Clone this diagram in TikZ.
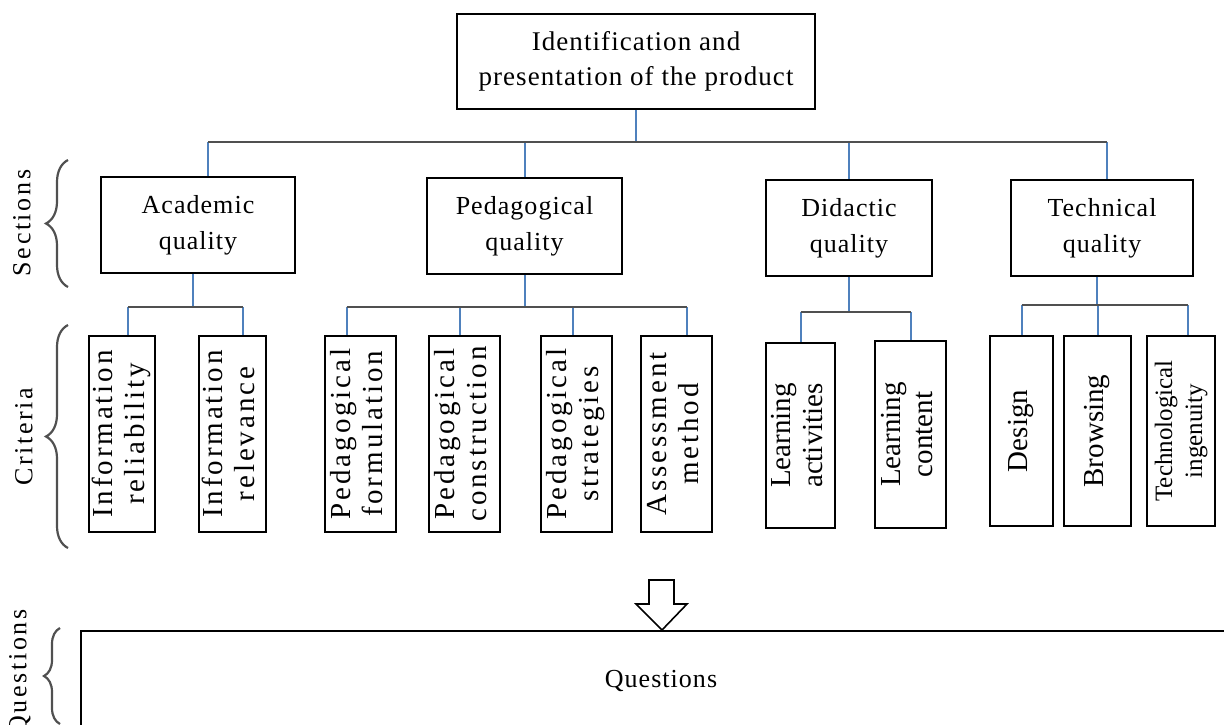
\documentclass[tikz,border=0pt]{standalone}
\usepackage{fontspec}
\setmainfont{Liberation Serif}
\newfontfamily\boxfont[LetterSpace=4]{Liberation Serif}
\newfontfamily\sidefont[LetterSpace=10]{Liberation Serif}
\usepackage{tikz}
\usetikzlibrary{decorations.pathreplacing}

\definecolor{stemblue}{HTML}{4F81BD}
\definecolor{busgray}{HTML}{505050}

% rotated two-line text for the criteria boxes
\newcommand{\vlabel}[2]{\rotatebox{90}{\begin{tabular}{@{}c@{}}#1\\#2\end{tabular}}}

\begin{document}
\begin{tikzpicture}[x=1pt,y=-1pt,
    box/.style={draw=black, line width=1.8pt, align=center, inner sep=0pt},
    topbox/.style={box, minimum width=358, minimum height=95, font=\boxfont\fontsize{27}{35}\selectfont},
    secbox/.style={box, minimum height=96, font=\boxfont\fontsize{26}{36}\selectfont},
    critbox/.style={box, font=\sidefont\fontsize{29}{32}\selectfont},
    critboxn/.style={box, font=\fontsize{29}{32}\selectfont},
    stem/.style={draw=stemblue, line width=2pt},
    bus/.style={draw=busgray, line width=2.5pt},
    sidebrace/.style={draw=busgray, line width=2.2pt, decorate, decoration={brace, amplitude=#1}},
    sidelabel/.style={rotate=90, font=\sidefont\fontsize{26}{30}\selectfont}
]
\useasboundingbox (0,0) rectangle (1224,724);

% top
\node[topbox] (product) at (636,61.5) {Identification and\\presentation of the product};

% sections
\node[secbox, minimum width=194] (academic) at (198,225) {Academic\\quality};
\node[secbox, minimum width=195] (pedagogical) at (524.5,226) {Pedagogical\\quality};
\node[secbox, minimum width=166] (didactic) at (849,228) {Didactic\\quality};
\node[secbox, minimum width=182] (technical) at (1102,228) {Technical\\quality};

% criteria
\node[critbox, minimum width=66, minimum height=196] (inforel) at (122,434) {\vlabel{Information}{reliability}};
\node[critbox, minimum width=67, minimum height=196] (inforelev) at (232.5,434) {\vlabel{Information}{relevance}};
\node[critbox, minimum width=71, minimum height=196] (pedform) at (360.5,434) {\vlabel{Pedagogical}{formulation}};
\node[critbox, minimum width=71, minimum height=196] (pedcons) at (464.5,434) {\vlabel{Pedagogical}{construction}};
\node[critbox, minimum width=71, minimum height=196] (pedstrat) at (576.5,434) {\vlabel{Pedagogical}{strategies}};
\node[critbox, minimum width=71, minimum height=196] (assess) at (676.5,434) {\vlabel{Assessment}{method}};
\node[critboxn, minimum width=69, minimum height=185] (learnact) at (800.5,435.5) {\vlabel{Learning}{activities}};
\node[critboxn, minimum width=71, minimum height=187] (learncont) at (910.5,434.5) {\vlabel{Learning}{content}};
\node[critboxn, minimum width=63, minimum height=190] (design) at (1021.5,431) {\rotatebox{90}{Design}};
\node[critboxn, minimum width=67, minimum height=190] (browsing) at (1097.5,431) {\rotatebox{90}{Browsing}};
\node[critboxn, minimum width=68, minimum height=190, font=\fontsize{25}{30}\selectfont] (teching) at (1181,431) {\vlabel{Technological}{ingenuity}};

% questions
\node[box, line width=2pt, anchor=north west, minimum width=1160, minimum height=100,
      font=\boxfont\fontsize{26}{30}\selectfont] (questions) at (80,630) {Questions};

% bus lines
\coordinate (bustop) at (0,142);
\coordinate (busacad) at (0,307);
\coordinate (buspeda) at (0,307);
\coordinate (busdida) at (0,312);
\coordinate (bustech) at (0,305);

\draw[stem] (product.south) -- (product.south |- bustop);
\draw[stem] ([xshift=10]academic.north) -- ([xshift=10]academic.north |- bustop);
\draw[stem] (pedagogical.north) -- (pedagogical.north |- bustop);
\draw[stem] (didactic.north) -- (didactic.north |- bustop);
\draw[stem] ([xshift=5]technical.north) -- ([xshift=5]technical.north |- bustop);
\draw[bus] ([xshift=10]academic.north |- bustop) -- ([xshift=5]technical.north |- bustop);

\draw[stem] ([xshift=-5]academic.south) -- ([xshift=-5]academic.south |- busacad);
\draw[stem] ([xshift=6]inforel.north) -- ([xshift=6]inforel.north |- busacad);
\draw[stem] ([xshift=10]inforelev.north) -- ([xshift=10]inforelev.north |- busacad);
\draw[bus] ([xshift=6]inforel.north |- busacad) -- ([xshift=10]inforelev.north |- busacad);

\draw[stem] (pedagogical.south) -- (pedagogical.south |- buspeda);
\draw[stem] ([xshift=-14]pedform.north) -- ([xshift=-14]pedform.north |- buspeda);
\draw[stem] ([xshift=-5]pedcons.north) -- ([xshift=-5]pedcons.north |- buspeda);
\draw[stem] ([xshift=-4]pedstrat.north) -- ([xshift=-4]pedstrat.north |- buspeda);
\draw[stem] ([xshift=10]assess.north) -- ([xshift=10]assess.north |- buspeda);
\draw[bus] ([xshift=-14]pedform.north |- buspeda) -- ([xshift=10]assess.north |- buspeda);

\draw[stem] (didactic.south) -- (didactic.south |- busdida);
\draw[stem] (learnact.north) -- (learnact.north |- busdida);
\draw[stem] (learncont.north) -- (learncont.north |- busdida);
\draw[bus] (learnact.north |- busdida) -- (learncont.north |- busdida);

\draw[stem] ([xshift=-5]technical.south) -- ([xshift=-5]technical.south |- bustech);
\draw[stem] (design.north) -- (design.north |- bustech);
\draw[stem] (browsing.north) -- (browsing.north |- bustech);
\draw[stem] ([xshift=7]teching.north) -- ([xshift=7]teching.north |- bustech);
\draw[bus] (design.north |- bustech) -- ([xshift=7]teching.north |- bustech);

% hollow arrow onto the questions box
\coordinate (tip) at (questions.north -| 662,0);
\draw[line width=1.6pt, fill=white] (tip) -- ++(-26,-26) -- ++(13,0) -- ++(0,-24)
  -- ++(25,0) -- ++(0,24) -- ++(13,0) -- cycle;

% braces and side labels
\draw[sidebrace=22pt] (68,287) -- (68,160);
\draw[sidebrace=22pt] (68,548) -- (68,325);
\draw[sidebrace=16pt] (60,724) -- (60,628);
\node[sidelabel] (lblsec) at (22,223) {Sections};
\node[sidelabel] (lblcrit) at (24,437) {Criteria};
\node[sidelabel] (lblques) at (20,672) {Questions};
\end{tikzpicture}
\end{document}
